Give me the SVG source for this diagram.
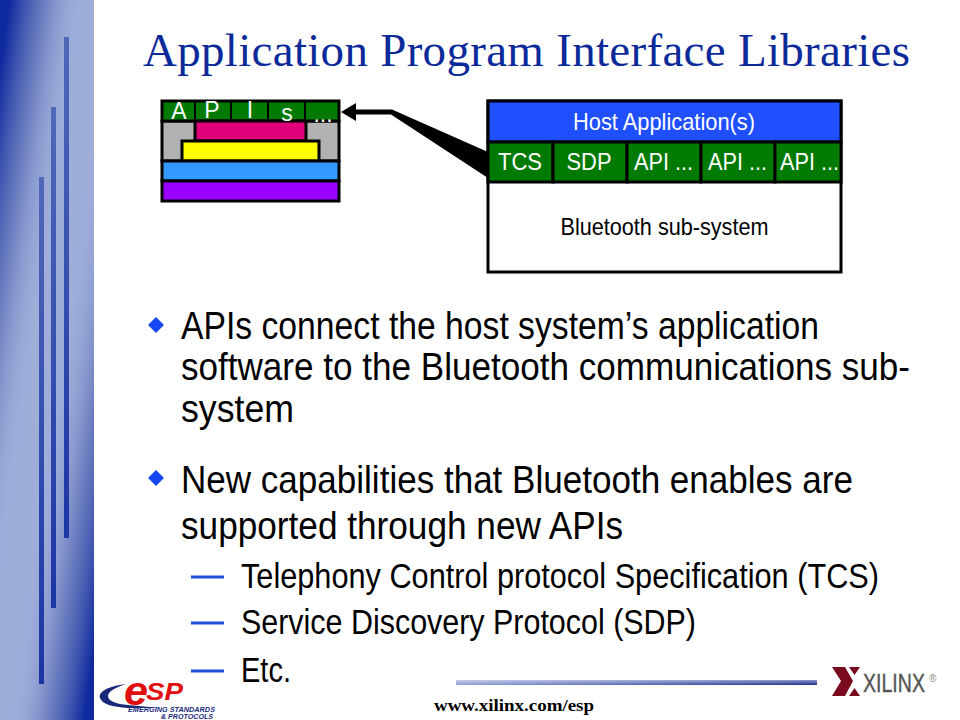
<svg xmlns="http://www.w3.org/2000/svg" width="960" height="720" viewBox="0 0 960 720">
<defs>
<linearGradient id="sideTop" gradientUnits="userSpaceOnUse" x1="0" y1="0" x2="98" y2="14"><stop offset="0.1" stop-color="#0f2a9e"/><stop offset="0.45" stop-color="#4a5fb0" stop-opacity="0.6"/><stop offset="0.85" stop-color="#9fadd9" stop-opacity="0"/></linearGradient>
<linearGradient id="sideBottom" gradientUnits="userSpaceOnUse" x1="94" y1="720" x2="-4" y2="706"><stop offset="0.1" stop-color="#0f2a9e"/><stop offset="0.45" stop-color="#4a5fb0" stop-opacity="0.6"/><stop offset="0.85" stop-color="#9fadd9" stop-opacity="0"/></linearGradient>
<linearGradient id="barFill" x1="0" y1="0" x2="0" y2="1"><stop offset="0" stop-color="#5068b8"/><stop offset="1" stop-color="#1c35a5"/></linearGradient>
<linearGradient id="rule" x1="0" y1="0" x2="1" y2="0"><stop offset="0" stop-color="#8f9ed4"/><stop offset="1" stop-color="#1c2f8f"/></linearGradient>
<linearGradient id="ruleShade" x1="0" y1="0" x2="0" y2="1"><stop offset="0" stop-color="#fff" stop-opacity="0.5"/><stop offset="1" stop-color="#fff" stop-opacity="0"/></linearGradient>
</defs>
<style>
text{font-family:"Liberation Sans",Arial,sans-serif}
.box{stroke:#000;stroke-width:3}
.w{fill:#fff;font-size:24px;text-anchor:middle}
.s{fill:#fff;font-size:23px;text-anchor:middle}
.b{fill:#000;font-size:39px}
.c{fill:#000;font-size:35px}
.bar{fill:url(#barFill)}
.dash{stroke:#1f4fd8;stroke-width:3}
.bul{fill:#1447f0}
.esp{font-weight:bold;font-style:italic;fill:#e01010}
.tag{font-weight:bold;font-style:italic;fill:#1c2a80;font-size:7px}
</style>
<g id="sidebar">
<rect x="0" y="0" width="94" height="720" fill="#9fadd9"/>
<rect x="0" y="0" width="94" height="720" fill="url(#sideTop)"/>
<rect x="0" y="0" width="94" height="720" fill="url(#sideBottom)"/>
<rect class="bar" x="64" y="37" width="5" height="501"/>
<rect class="bar" x="51" y="107" width="5" height="501"/>
<rect class="bar" x="39" y="177" width="5" height="507"/>
</g>
<text id="title" x="143" y="66" font-size="47" fill="#0b2a9a" textLength="767" lengthAdjust="spacing" style="font-family:'Liberation Serif',serif">Application Program Interface Libraries</text>
<g id="api-stack">
<rect x="162" y="121" width="177" height="40" fill="#b2b2b2" class="box"/>
<rect x="162" y="101" width="177" height="20" fill="#007a00" class="box"/>
<path d="M195 101V121M231 101V121M268 101V121M305 101V121" stroke="#000" stroke-width="2" fill="none"/>
<rect x="195" y="121" width="111" height="20" fill="#e0007a" class="box"/>
<rect x="182" y="141" width="137" height="20" fill="#ffff00" class="box"/>
<rect x="162" y="161" width="177" height="20" fill="#3399ff" class="box"/>
<rect x="162" y="181" width="177" height="20" fill="#9900ff" class="box"/>
<text class="s" x="179" y="119">A</text>
<text class="s" x="212" y="118">P</text>
<text class="s" x="250" y="118">I</text>
<text class="s" x="287" y="121">s</text>
<text class="s" x="323" y="122">...</text>
</g>
<g id="connectors">
<path d="M341 112L356 103V109.500H392L488 152V178L391 114.500H356V121Z" fill="#000"/>
</g>
<g id="host">
<rect x="488" y="101" width="353" height="171" fill="#fff" class="box"/>
<rect x="488" y="101" width="353" height="41" fill="#1f4fff" class="box"/>
<g fill="#007a00" class="box">
<rect x="488" y="142" width="65" height="40"/>
<rect x="553" y="142" width="74" height="40"/>
<rect x="627" y="142" width="74" height="40"/>
<rect x="701" y="142" width="74" height="40"/>
<rect x="775" y="142" width="66" height="40"/>
</g>
<text class="w" x="664" y="130" textLength="182" lengthAdjust="spacingAndGlyphs">Host Application(s)</text>
<text class="w" x="520" y="170" textLength="44" lengthAdjust="spacingAndGlyphs">TCS</text>
<text class="w" x="589" y="170" textLength="45" lengthAdjust="spacingAndGlyphs">SDP</text>
<text class="w" x="663.500" y="170" textLength="59" lengthAdjust="spacingAndGlyphs">API ...</text>
<text class="w" x="737.500" y="170" textLength="59" lengthAdjust="spacingAndGlyphs">API ...</text>
<text class="w" x="809.500" y="170" textLength="59" lengthAdjust="spacingAndGlyphs">API ...</text>
<text x="664.500" y="235" font-size="24" text-anchor="middle" textLength="208" lengthAdjust="spacingAndGlyphs">Bluetooth sub-system</text>
</g>
<g id="body">
<path class="bul" d="M148 325L156 317L164 325L156 333Z"/>
<text class="b" x="181" y="339" textLength="638" lengthAdjust="spacingAndGlyphs">APIs connect the host system’s application</text>
<text class="b" x="181" y="380" textLength="729" lengthAdjust="spacingAndGlyphs">software to the Bluetooth communications sub-</text>
<text class="b" x="181" y="422" textLength="113" lengthAdjust="spacingAndGlyphs">system</text>
<path class="bul" d="M148 478L156 470L164 478L156 486Z"/>
<text class="b" x="181" y="493" textLength="672" lengthAdjust="spacingAndGlyphs">New capabilities that Bluetooth enables are</text>
<text class="b" x="181" y="539" textLength="442" lengthAdjust="spacingAndGlyphs">supported through new APIs</text>
<path class="dash" d="M191 577H224M191 623H224M191 671H224"/>
<text class="c" x="241" y="588" textLength="638" lengthAdjust="spacingAndGlyphs">Telephony Control protocol Specification (TCS)</text>
<text class="c" x="241" y="634" textLength="455" lengthAdjust="spacingAndGlyphs">Service Discovery Protocol (SDP)</text>
<text class="c" x="241" y="682" textLength="50" lengthAdjust="spacingAndGlyphs">Etc.</text>
</g>
<g id="footer">
<rect x="456" y="680" width="361" height="5" fill="url(#rule)"/>
<rect x="456" y="680" width="361" height="5" fill="url(#ruleShade)"/>
<text x="434" y="711" font-size="16" font-weight="bold" textLength="160" lengthAdjust="spacingAndGlyphs" style="font-family:'Liberation Serif',serif">www.xilinx.com/esp</text>
</g>
<g id="esp-logo">
<path d="M126 684C108 686 98 692 100 698C102 704 112 707 128 708L160 708L128 705C116 704 108 701 108 696C108 692 114 688 126 684Z" fill="#1a2a7a"/>
<text class="esp" x="124" y="705" font-size="40" textLength="24" lengthAdjust="spacingAndGlyphs">e</text>
<text class="esp" x="146" y="700" font-size="23" textLength="37" lengthAdjust="spacingAndGlyphs">SP</text>
<text class="tag" x="128" y="712" textLength="87" lengthAdjust="spacingAndGlyphs">EMERGING STANDARDS</text>
<text class="tag" x="161" y="719" textLength="52" lengthAdjust="spacingAndGlyphs">&amp; PROTOCOLS</text>
</g>
<g id="xilinx-logo">
<path d="M832 667H845L853 681L845 696H832L841 681Z" fill="#7a0a1e"/>
<path d="M849 667H860L854.500 675Z" fill="#7a0a1e"/>
<path d="M849 696H860L854.500 688Z" fill="#7a0a1e"/>
<text x="863" y="692" font-size="26" fill="#555" stroke="#555" stroke-width="0.4" textLength="62" lengthAdjust="spacingAndGlyphs">XILINX</text>
<text x="929" y="682" font-size="10" fill="#888">®</text>
</g>
</svg>
